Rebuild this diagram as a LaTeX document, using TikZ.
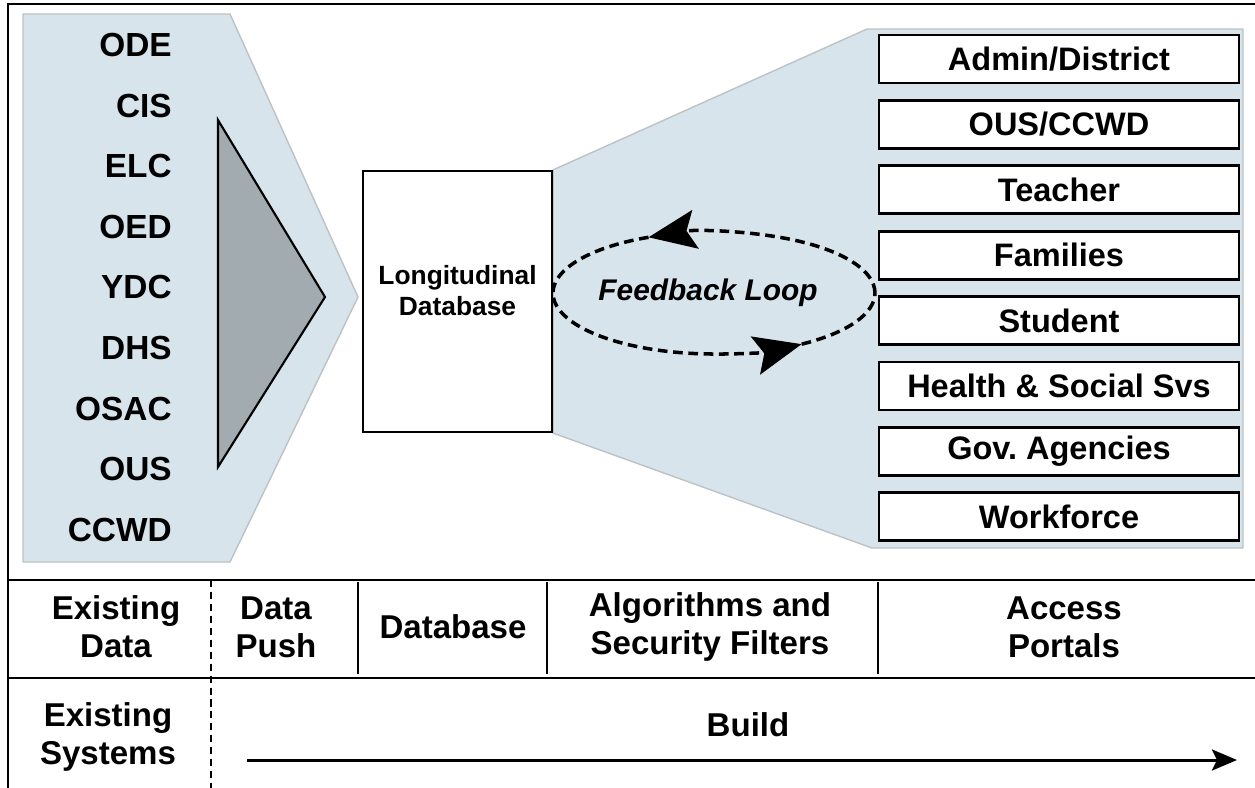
\documentclass[tikz,border=0pt]{standalone}
\usepackage{fontspec}
\setmainfont{Liberation Sans}
\usetikzlibrary{arrows.meta,positioning,backgrounds,calc}
\definecolor{panelbg}{RGB}{216,228,236}
\definecolor{paneledge}{RGB}{188,194,198}
\definecolor{funnelgray}{RGB}{162,171,176}
\tikzset{
  srclabel/.style={
    anchor=east, inner sep=0pt,
    font=\fontsize{19}{22}\selectfont\bfseries
  },
  portalbox/.style={
    draw=black, fill=white, line width=1.5pt,
    minimum width=7.2cm, minimum height=0.96cm, inner sep=0pt,
    font=\fontsize{18.5}{21}\selectfont\bfseries
  },
  dbbox/.style={
    draw=black, fill=white, line width=1.3pt,
    minimum width=3.78cm, minimum height=5.22cm, inner sep=0pt
  },
  dbtext/.style={
    align=center, inner sep=0pt,
    font=\fontsize{15}{17.5}\selectfont\bfseries
  },
  looptext/.style={
    inner sep=0pt,
    font=\fontsize{17}{20}\selectfont\bfseries\itshape
  },
  panel/.style={
    fill=panelbg, draw=paneledge, line width=0.8pt
  },
  loopline/.style={
    dash pattern=on 5.5pt off 3.2pt, line width=2pt
  },
  looptip/.style={
    -{Stealth[length=0.95cm,width=0.78cm,inset=0.18cm]}
  },
  rowlabel/.style={
    align=center, inner sep=0pt,
    font=\fontsize{18.8}{21.5}\selectfont\bfseries
  },
  gridline/.style={
    draw=black, line width=1.6pt
  },
  buildarrow/.style={
    -{Stealth[length=0.5cm,width=0.42cm,inset=0.1cm]},
    draw=black, line width=1.7pt
  },
}

\begin{document}
\begin{tikzpicture}[x=0.02cm, y=-0.02cm]

  \useasboundingbox (0,0) rectangle (1255,788);

  %% Database
  \node[dbbox] (db) at (457.5,301.5) {};
  \node[dbtext] (dblabel) at ([yshift=0.22cm]db.center)
    {Longitudinal\\Database};

  %% Panels behind
  \begin{pgfonlayer}{background}
    \draw[panel] (23,14) -- (230,14) -- (358,297) -- (230,562)
      -- (23,562) -- cycle;
    \draw[panel] (db.north east) -- (867,29) -- (1243,29)
      -- (1243,548) -- (872,548) -- (db.south east) -- cycle;
  \end{pgfonlayer}

  %% Funnel
  \draw[fill=funnelgray, line width=1.2pt]
    (218,120) -- (325,297) -- (218,467) -- cycle;

  %% Existing data sources
  \foreach \lab [count=\i] in {ODE,CIS,ELC,OED,YDC,DHS,OSAC,OUS,CCWD}
    \node[srclabel] (src\i) at (172,{45+60.6*(\i-1)}) {\lab};

  %% Access portals
  \foreach \lab [count=\i] in {Admin/District,OUS/CCWD,Teacher,Families,
      Student,Health \& Social Svs,Gov.\ Agencies,Workforce}
    \node[portalbox] (portal\i) at (1059,{59+65.4*(\i-1)}) {\lab};

  %% Feedback loop
  \coordinate (lc) at (714,293);
  \node[looptext] (fb) at (708,293) {Feedback Loop};
  \draw[loopline, looptip]
    ([shift={(0:3.22cm and 1.22cm)}]lc)
    arc[start angle=0, end angle=114, x radius=3.22cm, y radius=1.22cm];
  \draw[loopline, looptip]
    ([shift={(114:3.22cm and 1.22cm)}]lc)
    arc[start angle=114, end angle=303, x radius=3.22cm, y radius=1.22cm];
  \draw[loopline]
    ([shift={(303:3.22cm and 1.22cm)}]lc)
    arc[start angle=303, end angle=360, x radius=3.22cm, y radius=1.22cm];

  %% Frame and table
  \draw[gridline] (8,788) -- (8,4) -- (1255,4);
  \draw[gridline] (8,580) -- (1255,580);
  \draw[gridline] (8,678) -- (1255,678);
  \draw[line width=0.9pt, dash pattern=on 4pt off 2.8pt] (211,580) -- (211,788);
  \foreach \x in {358,547,878}
    \draw[line width=1.1pt] (\x,582) -- (\x,674);

  \node[rowlabel] (exdata) at (116,627) {Existing\\Data};
  \node[rowlabel] (push) at (276,627) {Data\\Push};
  \node[rowlabel] (dbcol) at (453,627) {Database};
  \node[rowlabel] (algo) at (710,627) {Algorithms and\\Security Filters};
  \node[rowlabel] (portals) at (1064,627) {Access\\Portals};
  \node[rowlabel] (exsys) at (108,737) {Existing\\Systems};
  \node[rowlabel] (build) at (748,725) {Build};

  %% Build arrow
  \coordinate (bstart) at (247,760);
  \coordinate (bend) at (1237,760);
  \draw[buildarrow] (bstart) -- (bend);

\end{tikzpicture}
\end{document}
